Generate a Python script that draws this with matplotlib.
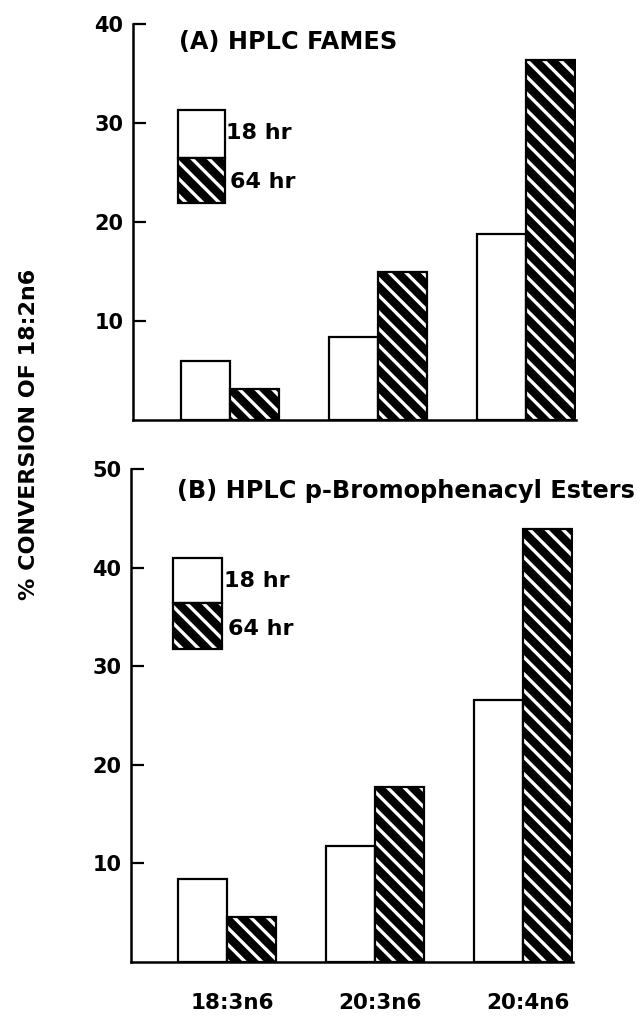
import matplotlib
matplotlib.use("Agg")
import matplotlib.pyplot as plt
from matplotlib.patches import Rectangle
import numpy as np

# values (% conversion of 18:2n6)
categories = ["18:3n6", "20:3n6", "20:4n6"]
fames_18hr = [6.0, 8.4, 18.8]
fames_64hr = [3.1, 14.9, 36.4]
esters_18hr = [8.4, 11.8, 26.6]
esters_64hr = [4.6, 17.8, 43.9]
series_labels = ["18 hr", "64 hr"]

plt.rcParams["font.family"] = "DejaVu Sans"
plt.rcParams["font.weight"] = "bold"
plt.rcParams["hatch.linewidth"] = 2.4

HATCH = "\\\\"

fig = plt.figure(figsize=(6.4, 10.16), dpi=100)
axA = fig.add_axes([0.2078, 0.5866, 0.692, 0.3898])
axB = fig.add_axes([0.2047, 0.0531, 0.6906, 0.4852])

w = 0.331
x = np.arange(len(categories))


def hatched_bar(ax, xs, ys):
	# black fill with white diagonal stripes, then black outline on top
	ax.bar(xs, ys, w, align="edge", color="black", edgecolor="white", hatch=HATCH, linewidth=0)
	ax.bar(xs, ys, w, align="edge", fill=False, edgecolor="black", linewidth=1.6)


def panel(ax, v18, v64, ymax, title, leg_box, leg_text_y):
	ax.bar(x - w, v18, w, align="edge", color="white", edgecolor="black", linewidth=1.6)
	hatched_bar(ax, x, v64)

	ax.set_xlim(-0.652, 2.338)
	ax.set_ylim(0, ymax)
	ax.set_yticks(range(10, ymax + 1, 10))
	ax.tick_params(axis="y", direction="in", length=9, width=1.6, labelsize=15, pad=7)
	ax.spines["top"].set_visible(False)
	ax.spines["right"].set_visible(False)
	for s in ["left", "bottom"]:
		ax.spines[s].set_linewidth(1.8)

	ax.text(-0.34, ymax * 0.955, title, fontsize=17.3, fontweight="bold", va="center", ha="left", clip_on=False)

	# legend boxes
	x0, x1, ytop, ymid, ybot = leg_box
	ax.add_patch(Rectangle((x0, ymid), x1 - x0, ytop - ymid, facecolor="white", edgecolor="black", linewidth=1.6))
	ax.add_patch(Rectangle((x0, ybot), x1 - x0, ymid - ybot, facecolor="black", edgecolor="white", hatch=HATCH, linewidth=0))
	ax.add_patch(Rectangle((x0, ybot), x1 - x0, ymid - ybot, fill=False, edgecolor="black", linewidth=1.6))
	ax.text(x1 + 0.01, leg_text_y[0], series_labels[0], fontsize=16, fontweight="bold", va="center", ha="left")
	ax.text(x1 + 0.04, leg_text_y[1], series_labels[1], fontsize=16, fontweight="bold", va="center", ha="left")


panel(axA, fames_18hr, fames_64hr, 40, "(A) HPLC FAMES",
	(-0.351, -0.034, 31.3, 26.5, 21.9), (29.0, 24.0))
axA.set_xticks([])

panel(axB, esters_18hr, esters_64hr, 50, "(B) HPLC p-Bromophenacyl Esters",
	(-0.365, -0.034, 41.0, 36.4, 31.8), (38.6, 33.8))
axB.set_xticks(x + 0.03)
axB.set_xticklabels(categories, fontsize=15.5, fontweight="bold")
axB.tick_params(axis="x", length=0, pad=22)

fig.text(0.045, 0.572, "% CONVERSION OF 18:2n6", rotation=90, fontsize=16, fontweight="bold", va="center", ha="center")

fig.savefig("out.png", dpi=100)
